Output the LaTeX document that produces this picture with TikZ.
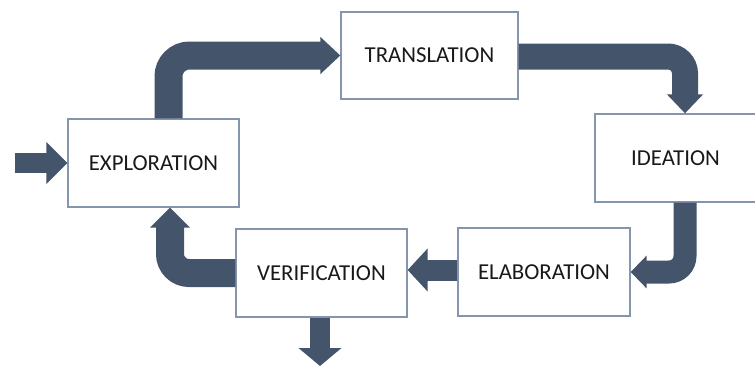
\documentclass[tikz,border=0pt]{standalone}
\usepackage{fontspec}
\setmainfont{Carlito}
\usetikzlibrary{arrows.meta}
\definecolor{flow}{HTML}{44546A}
\definecolor{boxline}{HTML}{8595AB}
\begin{document}
\begin{tikzpicture}[x=1pt,y=-1pt,
  stage/.style={draw=boxline, line width=1.3pt, fill=white, inner sep=0pt,
    font=\fontsize{22.8}{26}\selectfont, text=black!90},
  flowarrow/.style={draw=flow, line width=#1},
  tip/.style n args={2}{-{Triangle[width=#1, length=#2]}}]
\useasboundingbox (0,0) rectangle (755,365);

% process stages
\node[stage, minimum width=171pt, minimum height=88pt] (expl)  at (153.5,163) {EXPLORATION};
\node[stage, minimum width=177pt, minimum height=87pt] (trans) at (429.5,55.5) {TRANSLATION};
\node[stage, minimum width=161pt, minimum height=88pt] (idea)  at (675.5,158) {IDEATION};
\node[stage, minimum width=172pt, minimum height=88pt] (elab)  at (544,272) {ELABORATION};
\node[stage, minimum width=171pt, minimum height=88pt] (veri)  at (321.5,273) {VERIFICATION};

% free ends of the entry and exit arrows
\coordinate (in)  at (15,163);
\coordinate (out) at (320,366);

% block arrows between the stages
\draw[flowarrow=20pt, tip={41pt}{21pt}] (in) -- (expl.west);
\draw[flowarrow=28pt, tip={36pt}{20pt}, rounded corners=21pt]
  ([xshift=15pt]expl.north) |- (trans.west);
\draw[flowarrow=26pt, tip={35pt}{19pt}, rounded corners=17pt]
  ([yshift=-1pt]trans.east) -| ([xshift=9.5pt]idea.north);
\draw[flowarrow=23pt, tip={32pt}{16pt}, rounded corners=16pt]
  ([xshift=9.5pt]idea.south) |- (elab.east);
\draw[flowarrow=21pt, tip={42pt}{20pt}]
  ([yshift=2pt]elab.west) -- ([yshift=2pt]elab.west -| veri.east);
\draw[flowarrow=28pt, tip={39pt}{20pt}, rounded corners=19pt]
  (veri.west) -| ([xshift=16.5pt]expl.south);
\draw[flowarrow=20pt, tip={42pt}{18pt}]
  (veri.south -| out) -- (out);
\end{tikzpicture}
\end{document}
